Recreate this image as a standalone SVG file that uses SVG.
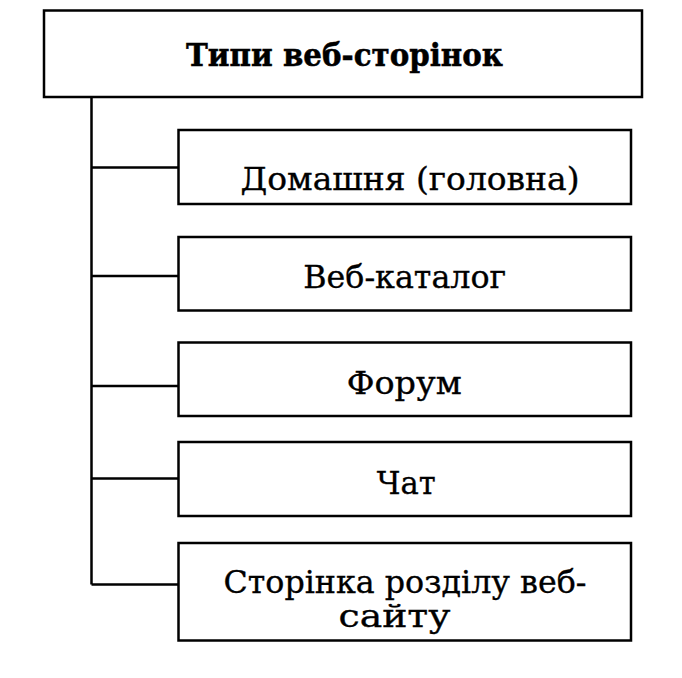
<svg xmlns="http://www.w3.org/2000/svg" width="682" height="678" viewBox="0 0 682 678">
<style>
.box{fill:#fff;stroke:#000;stroke-width:2.5}
.ln{fill:none;stroke:#000;stroke-width:2.5}
.t{font-family:"DejaVu Serif","Liberation Serif",serif;font-size:31px;fill:#000;stroke:#000;stroke-width:0.35;text-anchor:middle}
.b{font-weight:bold;font-size:32px;stroke-width:0.5}
</style>
<rect width="682" height="678" fill="#fff"/>
<g id="connectors">
<path class="ln" d="M91.5,97 V584.5 M91.5,167.5 H178 M91.5,276 H178 M91.5,386 H178 M91.5,478.5 H178 M91.5,584.5 H178"/>
</g>
<g id="root">
<rect class="box" x="44" y="10.5" width="598" height="86.5"/>
<text class="t b" x="344.5" y="66" textLength="317" lengthAdjust="spacingAndGlyphs">Типи веб-сторінок</text>
</g>
<g id="home">
<rect class="box" x="178.5" y="130" width="452.5" height="74"/>
<text class="t" x="410" y="189.5" textLength="339" lengthAdjust="spacingAndGlyphs">Домашня (головна)</text>
</g>
<g id="catalog">
<rect class="box" x="178.5" y="237" width="452.5" height="73.5"/>
<text class="t" x="404.7" y="287.5" textLength="203" lengthAdjust="spacingAndGlyphs">Веб-каталог</text>
</g>
<g id="forum">
<rect class="box" x="178.5" y="342.5" width="452.5" height="73.5"/>
<text class="t" x="404.2" y="394" textLength="115" lengthAdjust="spacingAndGlyphs">Форум</text>
</g>
<g id="chat">
<rect class="box" x="178.5" y="442" width="452.5" height="74"/>
<text class="t" x="406.3" y="494.3" textLength="59" lengthAdjust="spacingAndGlyphs">Чат</text>
</g>
<g id="section">
<rect class="box" x="178.5" y="543" width="452.5" height="97.5"/>
<text class="t" x="405" y="593.3" textLength="363" lengthAdjust="spacingAndGlyphs">Сторінка розділу веб-</text>
<text class="t" x="394.5" y="626.7" textLength="112" lengthAdjust="spacingAndGlyphs">сайту</text>
</g>
</svg>
